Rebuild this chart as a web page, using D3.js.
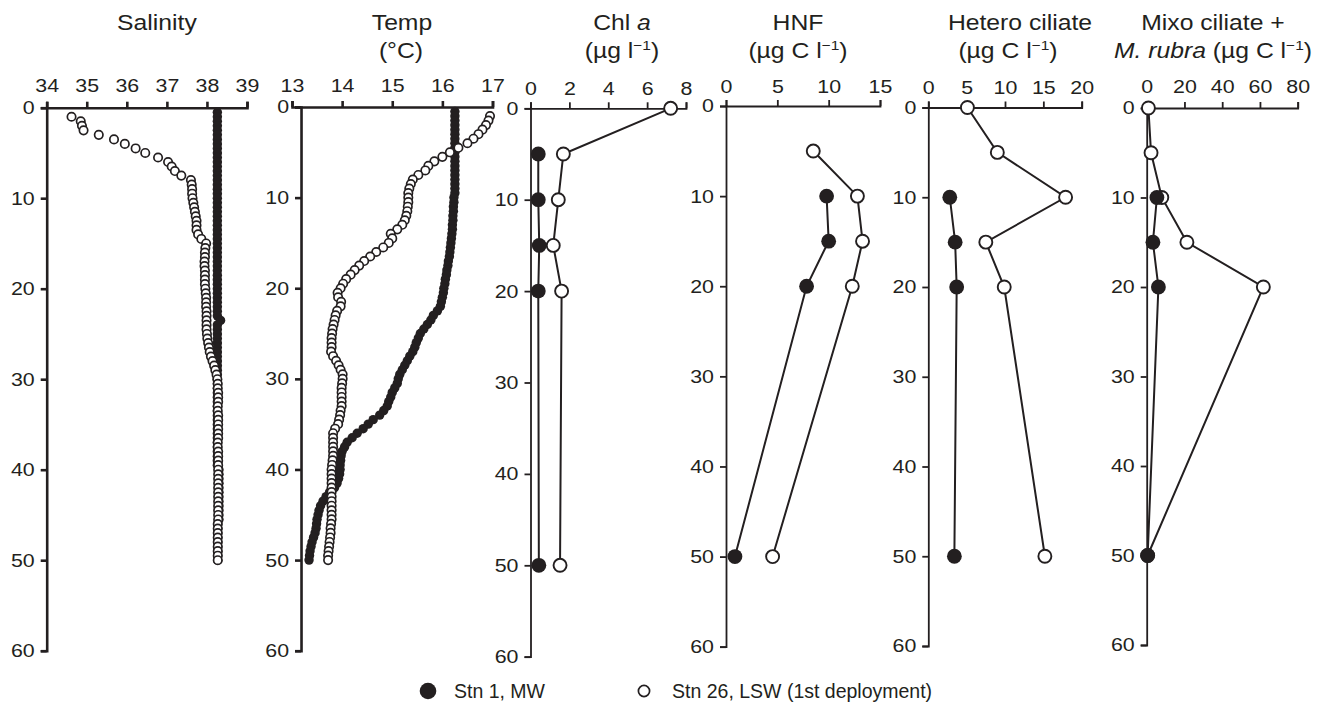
<!DOCTYPE html>
<html>
<head>
<meta charset="utf-8">
<title>Depth profiles</title>
<style>
  body { margin: 0; background: #fff; }
  svg text {
    font-family: "Liberation Sans", Arial, sans-serif;
    fill: #231f20;
    transform-box: fill-box;
    transform-origin: 50% 50%;
    transform: scaleX(1.15);
  }
  .axis path, .axis line { fill: none; stroke: #231f20; }
  .axis text { font-size: 18.6px; }
  .yaxis text { transform-origin: 100% 50%; }
  .title { font-size: 21.5px; }
  .legend text { font-size: 19.5px; transform: none; }
</style>
</head>
<body>
<svg id="chart" width="1333" height="704"></svg>
<script src="https://cdnjs.cloudflare.com/ajax/libs/d3/7.8.5/d3.min.js"></script>
<script>
  // ---- data ----
  var depthTicks = [0, 10, 20, 30, 40, 50, 60];
  var salTicks = [34, 35, 36, 37, 38, 39];
  var tempTicks = [13, 14, 15, 16, 17];
  var chlTicks = [0, 2, 4, 6, 8];
  var hnfTicks = [0, 5, 10, 15];
  var hetTicks = [0, 5, 10, 15, 20];
  var mixTicks = [0, 20, 40, 60, 80];

  // CTD casts, one value every 0.5 m from 0.5 to 50 m
  var ctdDepth = d3.range(0.5, 50.01, 0.5);

  var salStn1 = [
    38.26, 38.26, 38.26, 38.26, 38.26, 38.26, 38.26, 38.26, 38.26, 38.26,
    38.26, 38.26, 38.26, 38.26, 38.26, 38.26, 38.26, 38.26, 38.26, 38.26,
    38.26, 38.26, 38.26, 38.26, 38.26, 38.26, 38.26, 38.26, 38.26, 38.26,
    38.26, 38.26, 38.26, 38.26, 38.26, 38.26, 38.26, 38.26, 38.26, 38.26,
    38.26, 38.26, 38.26, 38.26, 38.26, 38.26, 38.34, 38.26, 38.26, 38.26,
    38.26, 38.26, 38.26, 38.26, 38.26, 38.26, 38.26, 38.26, 38.26, 38.26,
    38.26, 38.26, 38.26, 38.26, 38.26, 38.26, 38.26, 38.26, 38.26, 38.26,
    38.26, 38.26, 38.26, 38.26, 38.26, 38.26, 38.26, 38.26, 38.26, 38.3,
    38.3, 38.3, 38.3, 38.3, 38.3, 38.3, 38.3, 38.3, 38.3, 38.3,
    38.3, 38.27, 38.27, 38.27, 38.27, 38.27, 38.27, 38.27, 38.27, 38.27
  ];
  var salStn26 = [
    null, 34.62, 34.85, 34.88, 34.92, 35.3, 35.68, 35.95, 36.22, 36.46,
    36.78, 37.03, 37.12, 37.2, 37.36, 37.6, 37.62, 37.63, 37.63, 37.64,
    37.66, 37.68, 37.7, 37.72, 37.74, 37.74, 37.74, 37.78, 37.86, 37.98,
    37.96, 37.95, 37.95, 37.94, 37.94, 37.95, 37.95, 37.95, 37.95, 37.96,
    37.97, 37.98, 37.98, 37.98, 37.99, 37.99, 37.99, 37.99, 37.99, 38.0,
    38.01, 38.03, 38.05, 38.07, 38.1, 38.14, 38.18, 38.21, 38.24, 38.26,
    38.27, 38.27, 38.28, 38.28, 38.28, 38.27, 38.27, 38.28, 38.28, 38.28,
    38.28, 38.28, 38.28, 38.27, 38.27, 38.28, 38.28, 38.28, 38.28, 38.28,
    38.28, 38.28, 38.28, 38.28, 38.28, 38.28, 38.28, 38.28, 38.28, 38.28,
    38.28, 38.27, 38.27, 38.27, 38.27, 38.27, 38.27, 38.27, 38.27, 38.27
  ];
  var tempStn1 = [
    16.25, 16.25, 16.25, 16.25, 16.25, 16.25, 16.25, 16.25, 16.25, 16.25,
    16.25, 16.25, 16.25, 16.25, 16.25, 16.25, 16.25, 16.25, 16.25, 16.23,
    16.23, 16.22, 16.22, 16.21, 16.21, 16.2, 16.2, 16.19, 16.18, 16.17,
    16.16, 16.15, 16.14, 16.12, 16.11, 16.09, 16.08, 16.06, 16.05, 16.03,
    16.02, 16.0, 15.98, 15.96, 15.9, 15.82, 15.77, 15.7, 15.63, 15.56,
    15.52, 15.48, 15.45, 15.41, 15.35, 15.3, 15.25, 15.2, 15.15, 15.12,
    15.1, 15.05, 15.0, 14.97, 14.93, 14.9, 14.83, 14.75, 14.62, 14.52,
    14.42, 14.3, 14.2, 14.1, 14.05, 14.0, 13.98, 13.97, 13.96, 13.96,
    13.95, 13.93, 13.9, 13.85, 13.75, 13.68, 13.62, 13.57, 13.54, 13.52,
    13.5, 13.49, 13.48, 13.46, 13.43, 13.4, 13.38, 13.36, 13.35, 13.34
  ];
  var tempStn26 = [
    null, 16.95, 16.92, 16.87, 16.8, 16.72, 16.62, 16.5, 16.32, 16.15,
    16.0, 15.84, 15.72, 15.66, 15.52, 15.41, 15.37, 15.34, 15.32, 15.32,
    15.32, 15.31, 15.3, 15.28, 15.25, 15.2, 15.1, 14.97, 15.0, 14.93,
    14.82, 14.68, 14.56, 14.44, 14.34, 14.25, 14.17, 14.08, 14.02, 13.97,
    13.91, 13.92, 13.98, 13.97, 13.9, 13.87, 13.85, 13.83, 13.81, 13.8,
    13.79, 13.79, 13.79, 13.78, 13.82, 13.88, 13.93, 13.97, 14.01, 14.01,
    14.0, 13.99, 13.99, 13.99, 13.99, 13.99, 13.97, 13.96, 13.94, 13.92,
    13.86, 13.82, 13.82, 13.82, 13.82, 13.82, 13.82, 13.81, 13.8, 13.79,
    13.79, 13.79, 13.79, 13.79, 13.79, 13.79, 13.79, 13.79, 13.79, 13.79,
    13.79, 13.78, 13.77, 13.77, 13.76, 13.75, 13.74, 13.73, 13.72, 13.72
  ];

  // bottle samples
  var bottleDepth = [0, 5, 10, 15, 20, 50];
  var chlStn1 = [null, 0.40, 0.40, 0.45, 0.40, 0.43];
  var chlStn26 = [7.21, 1.69, 1.43, 1.17, 1.60, 1.52];
  var hnfStn1 = [null, null, 9.8, 10.0, 7.85, 0.87];
  var hnfStn26 = [null, 8.5, 12.8, 13.3, 12.3, 4.54];
  var hetStn1 = [null, null, 2.8, 3.5, 3.7, 3.4];
  var hetStn26 = [5.1, 9.0, 17.9, 7.5, 9.9, 15.2];
  var mixStn1 = [null, null, 5.4, 3.3, 6.2, 0.5];
  var mixStn26 = [0.9, 2.3, 8.0, 21.3, 61.8, 0.5];

  var stationNames = ["Stn 1, MW", "Stn 26, LSW (1st deployment)"];

  // ---- layout ----
  var ink = "#231f20";
  var svg = d3.select("#chart");

  var panels = [
    { ticks: salTicks, domain: [34, 39], range: [46.7, 247], yRange: [107.7, 650.7], axisAt: 34, stroke: 2.6, pad: 10 },
    { ticks: tempTicks, domain: [13, 17], range: [292, 492.5], yRange: [107, 650.7], axisAt: 13.18, stroke: 2.6, pad: 9 },
    { ticks: chlTicks, domain: [0, 8], range: [530.5, 686], yRange: [108.3, 656.7], axisAt: 0, stroke: 1.8, pad: 7 },
    { ticks: hnfTicks, domain: [0, 15], range: [726, 880], yRange: [106, 646.7], axisAt: 0, stroke: 1.8, pad: 7 },
    { ticks: hetTicks, domain: [0, 20], range: [928.3, 1081.7], yRange: [107.5, 646], axisAt: 0, stroke: 1.8, pad: 8 },
    { ticks: mixTicks, domain: [0, 80], range: [1146.7, 1297.7], yRange: [108, 645], axisAt: 0, stroke: 1.8, pad: 9 }
  ];

  panels.forEach(function (p) {
    p.x = d3.scaleLinear().domain(p.domain).range(p.range);
    p.y = d3.scaleLinear().domain([0, 60]).range(p.yRange);

    var gx = svg.append("g")
      .attr("class", "axis")
      .attr("transform", "translate(0," + p.y(0) + ")")
      .call(d3.axisTop(p.x).tickValues(p.ticks).tickFormat(d3.format("d"))
        .tickSize(6).tickPadding(p.pad));

    var gy = svg.append("g")
      .attr("class", "axis yaxis")
      .attr("transform", "translate(" + p.x(p.axisAt) + ",0)")
      .call(d3.axisLeft(p.y).tickValues(depthTicks).tickFormat(d3.format("d"))
        .tickSize(6).tickPadding(6));

    [gx, gy].forEach(function (g) {
      g.selectAll("path, line").attr("stroke-width", p.stroke).attr("stroke", ink);
      g.selectAll("text").attr("fill", ink);
    });
  });

  // ---- CTD profiles (salinity, temperature) ----
  function drawProfile(p, values, filled) {
    var pts = ctdDepth.map(function (d, i) { return { depth: d, v: values[i] }; })
      .filter(function (d) { return d.v != null; });
    svg.append("g").selectAll("circle")
      .data(pts)
      .enter().append("circle")
      .attr("cx", function (d) { return p.x(d.v); })
      .attr("cy", function (d) { return p.y(d.depth); })
      .attr("r", filled ? 4.7 : 4.2)
      .attr("fill", filled ? ink : "#fff")
      .attr("stroke", ink)
      .attr("stroke-width", filled ? 0 : 1.7);
  }

  drawProfile(panels[0], salStn1, true);
  drawProfile(panels[0], salStn26, false);
  drawProfile(panels[1], tempStn1, true);
  drawProfile(panels[1], tempStn26, false);

  // ---- bottle profiles ----
  function stationPoints(values) {
    return bottleDepth.map(function (d, i) { return { depth: d, v: values[i] }; })
      .filter(function (d) { return d.v != null; });
  }

  function drawLine(p, values) {
    var line = d3.line()
      .x(function (d) { return p.x(d.v); })
      .y(function (d) { return p.y(d.depth); });
    svg.append("path")
      .datum(stationPoints(values))
      .attr("d", line)
      .attr("fill", "none")
      .attr("stroke", ink)
      .attr("stroke-width", 2);
  }

  function drawDots(p, values, filled) {
    svg.append("g").selectAll("circle")
      .data(stationPoints(values))
      .enter().append("circle")
      .attr("cx", function (d) { return p.x(d.v); })
      .attr("cy", function (d) { return p.y(d.depth); })
      .attr("r", filled ? 7.4 : 6.5)
      .attr("fill", filled ? ink : "#fff")
      .attr("stroke", ink)
      .attr("stroke-width", filled ? 0 : 1.9);
  }

  var bottles = [
    [panels[2], chlStn1, chlStn26],
    [panels[3], hnfStn1, hnfStn26],
    [panels[4], hetStn1, hetStn26],
    [panels[5], mixStn1, mixStn26]
  ];

  bottles.forEach(function (b) {
    drawLine(b[0], b[2]);
    drawLine(b[0], b[1]);
    drawDots(b[0], b[2], false);
    drawDots(b[0], b[1], true);
  });

  // ---- titles ----
  function title(x, y) {
    return svg.append("text").attr("class", "title")
      .attr("x", x).attr("y", y).attr("text-anchor", "middle");
  }
  function unit(t, pre) {
    t.append("tspan").text(pre);
    t.append("tspan").attr("dy", -8).attr("font-size", 13.5).text("\u22121");
    t.append("tspan").attr("dy", 8).text(")");
  }

  title(157, 30).text("Salinity");
  title(402, 30).text("Temp");
  title(401, 58).text("(\u00b0C)");

  var chl = title(622, 30);
  chl.append("tspan").text("Chl ");
  chl.append("tspan").attr("font-style", "italic").text("a");
  unit(title(622, 58), "(\u00b5g l");

  title(798, 30).text("HNF");
  unit(title(798, 58), "(\u00b5g C l");

  title(1020, 30).text("Hetero ciliate");
  unit(title(1008, 58), "(\u00b5g C l");

  title(1213, 30).text("Mixo ciliate +");
  var mix = title(1213, 58);
  mix.append("tspan").attr("font-style", "italic").text("M. rubra");
  unit(mix, " (\u00b5g C l");

  // ---- legend ----
  var legend = svg.append("g").attr("class", "legend");
  legend.append("circle").attr("cx", 428).attr("cy", 691).attr("r", 8.3).attr("fill", ink);
  legend.append("text").attr("x", 454).attr("y", 698).text(stationNames[0]);
  legend.append("circle").attr("cx", 644).attr("cy", 691).attr("r", 5.6)
    .attr("fill", "#fff").attr("stroke", ink).attr("stroke-width", 1.7);
  legend.append("text").attr("x", 672).attr("y", 698).text(stationNames[1]);
</script>
</body>
</html>
